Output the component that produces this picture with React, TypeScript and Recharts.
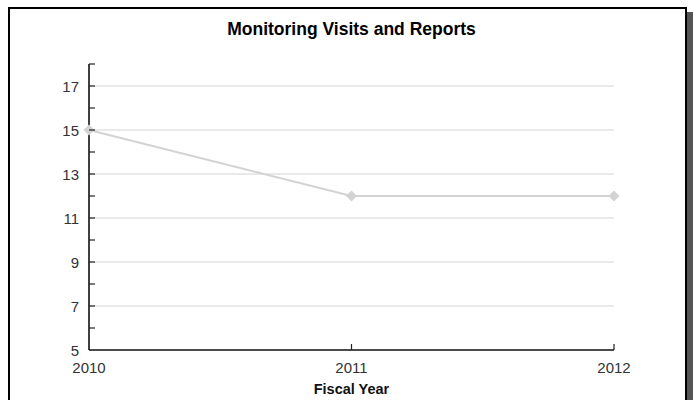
import React from "react";
import { LineChart, Line, XAxis, YAxis, ReferenceLine } from "recharts";

const years = [2010, 2011, 2012];
const visits = [15, 12, 12];
const yTicks = [5, 6, 7, 8, 9, 10, 11, 12, 13, 14, 15, 16, 17, 18];
const gridValues = [7, 9, 11, 13, 15, 17];

const data = years.map((year, i) => ({ year, value: visits[i] }));

const FONT = '"Liberation Sans", Arial, sans-serif';

const YTick = (props: any) => {
  const { x, y, payload } = props;
  const v = payload.value;
  const major = v % 2 === 1;
  return (
    <g>
      {v !== 5 && <line x1={x} x2={x + 6} y1={y} y2={y} stroke="#222" strokeWidth={1.2} />}
      {major && (
        <text x={x - 10} y={y + 5.5} textAnchor="end" fontSize={15} fill="#333" fontFamily={FONT}>
          {v}
        </text>
      )}
    </g>
  );
};

const XTick = (props: any) => {
  const { x, y, payload } = props;
  return (
    <g>
      {payload.value !== 2010 && <line x1={x} x2={x} y1={y} y2={y - 6} stroke="#222" strokeWidth={1.2} />}
      <text x={x} y={y + 23} textAnchor="middle" fontSize={15} fill="#333" fontFamily={FONT}>
        {payload.value}
      </text>
    </g>
  );
};

const Diamond = (props: any) => {
  const { cx, cy } = props;
  if (cx == null || cy == null) return null;
  const r = 5.5;
  return (
    <polygon
      points={`${cx},${cy - r} ${cx + r},${cy} ${cx},${cy + r} ${cx - r},${cy}`}
      fill="#d3d3d3"
    />
  );
};

export default function App() {
  return (
    <div
      style={{
        position: "absolute",
        left: 0,
        top: 0,
        width: 693,
        height: 400,
        overflow: "hidden",
        background: "#fff",
        fontFamily: FONT,
      }}
    >
      <div
        style={{
          position: "absolute",
          left: 8,
          top: 7,
          width: 675,
          height: 420,
          borderTop: "2px solid #000",
          borderLeft: "2px solid #000",
          borderRight: "2px solid #000",
        }}
      />
      <div
        style={{
          position: "absolute",
          left: 687,
          top: 12,
          width: 6,
          height: 400,
          background: "#555",
        }}
      />
      <div
        style={{
          position: "absolute",
          left: 0,
          top: 19,
          width: 703,
          textAlign: "center",
          fontWeight: "bold",
          fontSize: 17.5,
          color: "#000",
        }}
      >
        Monitoring Visits and Reports
      </div>
      <div style={{ position: "absolute", left: 0, top: 0 }}>
        <LineChart
          width={693}
          height={400}
          data={data}
          margin={{ top: 64, right: 79, left: 0, bottom: 0 }}
        >
          {gridValues.map((v) => (
            <ReferenceLine key={v} y={v} stroke="#e2e2e2" strokeWidth={1.5} />
          ))}
          <XAxis
            dataKey="year"
            type="number"
            domain={[2010, 2012]}
            ticks={years}
            height={50}
            tickSize={0}
            tickMargin={0}
            tickLine={false}
            axisLine={{ stroke: "#111", strokeWidth: 1.6 }}
            tick={<XTick />}
            interval={0}
            label={{
              value: "Fiscal Year",
              position: "insideBottom",
              offset: 6,
              fontSize: 14.5,
              fontWeight: "bold",
              fill: "#111",
              fontFamily: FONT,
            }}
          />
          <YAxis
            type="number"
            domain={[5, 18]}
            ticks={yTicks}
            width={89}
            tickSize={0}
            tickMargin={0}
            tickLine={false}
            axisLine={{ stroke: "#111", strokeWidth: 1.6 }}
            tick={<YTick />}
            interval={0}
          />
          <Line
            dataKey="value"
            stroke="#d3d3d3"
            strokeWidth={2}
            dot={<Diamond />}
            activeDot={false}
            isAnimationActive={false}
          />
        </LineChart>
      </div>
    </div>
  );
}
